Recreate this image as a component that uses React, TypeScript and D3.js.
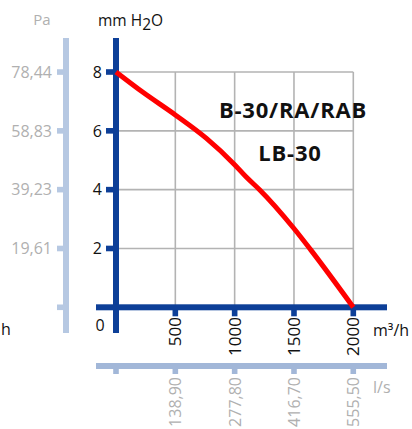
import React from "react";
import * as d3 from "d3";

const flowM3h = [0, 230, 500, 760, 1000, 1100, 1210, 1500, 1640, 2000];
const pressureMm = [8, 7.3, 6.54, 5.75, 4.85, 4.42, 4.0, 2.68, 1.96, 0];

const mmTicks = [2, 4, 6, 8];
const paTicks = [0, 19.61, 39.23, 58.83, 78.44];
const paTickLabels = ["", "19,61", "39,23", "58,83", "78,44"];
const m3hTicks = [500, 1000, 1500, 2000];
const lsTicks = [0, 138.9, 277.8, 416.7, 555.5];
const lsTickLabels = ["", "138,90", "277,80", "416,70", "555,50"];
const titleLines = ["B-30/RA/RAB", "LB-30"];

const FONT = "'Open Sans', 'DejaVu Sans', sans-serif";
const BLUE = "#0d3f98";
const LIGHT_V = "#b6c8e2";
const LIGHT_H = "#a2b7d8";
const GRID = "#b3b3b3";
const GRAYTXT = "#b0b0b0";

export default function App() {
  const x = d3.scaleLinear().domain([0, 2000]).range([116, 353.3]);
  const y = d3.scaleLinear().domain([0, 8]).range([307.3, 72]);
  const xLs = d3.scaleLinear().domain([0, 2000 / 3.6]).range([116, 353.3]);
  const yPa = d3.scaleLinear().domain([0, 8 * 9.80665]).range([307.3, 72]);

  const pts = flowM3h.map((f, i) => [f, pressureMm[i]] as [number, number]);
  const line = d3
    .line<[number, number]>()
    .x((d) => x(d[0]))
    .y((d) => y(d[1]))
    .curve(d3.curveMonotoneX);

  const x0 = x(0);
  const y0 = y(0);
  const xEnd = x(2000);
  const yTop = y(8);
  const lsY = 366;
  const paX = 66;

  return (
    <svg
      width={412}
      height={429}
      style={{ position: "absolute", left: 0, top: 0, background: "#fff" }}
      fontFamily={FONT}
    >
      {/* grid */}
      {mmTicks.map((t) => (
        <line key={"gy" + t} x1={x0} x2={xEnd} y1={y(t)} y2={y(t)} stroke={GRID} strokeWidth={1.6} />
      ))}
      {m3hTicks.map((t) => (
        <line key={"gx" + t} x1={x(t)} x2={x(t)} y1={yTop} y2={y0} stroke={GRID} strokeWidth={1.6} />
      ))}

      {/* secondary Pa axis */}
      <rect x={paX - 3} y={38} width={6} height={295} fill={LIGHT_V} />
      {paTicks.map((t, i) => (
        <g key={"pa" + i}>
          <rect x={paX - 9} y={yPa(t) - 2.8} width={7} height={5.6} fill={LIGHT_V} />
          <text x={52} y={yPa(t) + 5.8} textAnchor="end" fontSize={16} fill={GRAYTXT}>
            {paTickLabels[i]}
          </text>
        </g>
      ))}
      <text x={42} y={25} textAnchor="middle" fontSize={15} fill={GRAYTXT}>Pa</text>

      {/* main y axis */}
      <rect x={x0 - 3} y={38} width={6} height={295} fill={BLUE} />
      {mmTicks.map((t) => (
        <g key={"my" + t}>
          <rect x={x0 - 10} y={y(t) - 2.8} width={8} height={5.6} fill={BLUE} />
          <text x={102} y={y(t) + 5.8} textAnchor="end" fontSize={16} fill="#111">{t}</text>
        </g>
      ))}
      <text x={100} y={331} textAnchor="middle" fontSize={16} fill="#111">0</text>
      <text x={98} y={26} fontSize={15.5} fill="#111">
        mm H<tspan dy={3.5}>2</tspan><tspan dy={-3.5}>O</tspan>
      </text>
      <text x={1} y={335} fontSize={16} fill="#111">h</text>

      {/* main x axis */}
      <rect x={96} y={y0 - 3} width={291} height={6} fill={BLUE} />
      {m3hTicks.map((t) => (
        <g key={"mx" + t}>
          <rect x={x(t) - 2.8} y={y0 + 2} width={5.6} height={7} fill={BLUE} />
          <text
            transform={`translate(${x(t) + 6},317) rotate(-90)`}
            textAnchor="end"
            fontSize={17}
            fill="#111"
          >
            {t}
          </text>
        </g>
      ))}
      <text x={373} y={336} fontSize={16} fill="#111">
        m³/h
      </text>

      {/* secondary l/s axis */}
      <rect x={96} y={lsY - 3} width={291} height={6} fill={LIGHT_H} />
      {lsTicks.map((t, i) => (
        <g key={"ls" + i}>
          <rect x={xLs(t) - 2.8} y={lsY + 2} width={5.6} height={6} fill={LIGHT_H} />
          <text
            transform={`translate(${xLs(t) + 6},377) rotate(-90)`}
            textAnchor="end"
            fontSize={16}
            fill={GRAYTXT}
          >
            {lsTickLabels[i]}
          </text>
        </g>
      ))}
      <text x={373} y={393} fontSize={16} fill={GRAYTXT}>l/s</text>

      {/* curve */}
      <path d={line(pts) ?? ""} fill="none" stroke="#ff0000" strokeWidth={5} strokeLinecap="butt" />

      {/* titles */}
      <text x={293} y={118} textAnchor="middle" fontSize={22} fontWeight="bold" fill="#111" letterSpacing={0.8}>
        {titleLines[0]}
      </text>
      <text x={290} y={161} textAnchor="middle" fontSize={22} fontWeight="bold" fill="#111" letterSpacing={0.8}>
        {titleLines[1]}
      </text>
    </svg>
  );
}
